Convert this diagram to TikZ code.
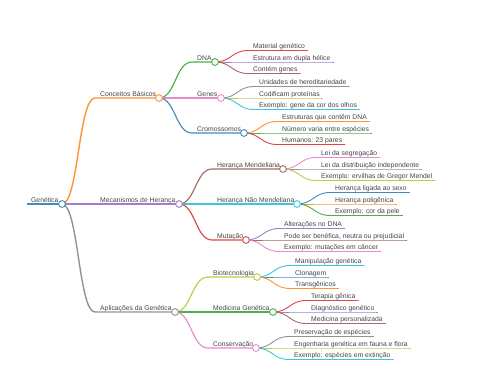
\documentclass[tikz,border=0pt]{standalone}
\usepackage{fontspec}
\setmainfont{Liberation Sans}
\definecolor{cA0}{HTML}{1F77B4}
\definecolor{cB0}{HTML}{FF7F0E}
\definecolor{cC0}{HTML}{2CA02C}
\definecolor{cD0}{HTML}{D62728}
\definecolor{cE0}{HTML}{9467BD}
\definecolor{cF0}{HTML}{8C564B}
\definecolor{cG0}{HTML}{E377C2}
\definecolor{cH0}{HTML}{7F7F7F}
\definecolor{cI0}{HTML}{BCBD22}
\definecolor{cJ0}{HTML}{17BECF}
\colorlet{cA}{cA0!85!white}
\colorlet{cB}{cB0!85!white}
\colorlet{cC}{cC0!85!white}
\colorlet{cD}{cD0!85!white}
\colorlet{cE}{cE0!85!white}
\colorlet{cF}{cF0!85!white}
\colorlet{cG}{cG0!85!white}
\colorlet{cH}{cH0!85!white}
\colorlet{cI}{cI0!85!white}
\colorlet{cJ}{cJ0!85!white}
\definecolor{txtgray}{HTML}{444444}
\tikzset{
  txt/.style={font=\fontsize{6.8}{8}\selectfont, text=txtgray, inner sep=0pt, anchor=base west},
  dot/.style={circle, draw, fill=white, minimum size=6.8pt, inner sep=0pt, line width=0.9pt}
}
% branch node: name parent color width xs y xe text
\newcommand\mmB[8]{%
  \coordinate (#1-s) at (#5,#6);
  \coordinate (#1) at (#7,#6);
  \node[txt] (#1-t) at (#5+5,#6-2) {#8};
  \draw[#3,line width=#4] (#2) .. controls +(16.5,0) and +(-16.5,0) .. (#1-s) -- (#1);
}
% leaf node: name parent color xs y text
\newcommand\mmL[6]{%
  \coordinate (#1-s) at (#4,#5);
  \node[txt] (#1-t) at (#4+5,#5-2) {#6};
  \draw[#3,line width=0.9pt] (#2) .. controls +(16.5,0) and +(-16.5,0) .. (#1-s) -- (#1-s -| #1-t.east) -- ++(3,0);
}
\newcommand\mmC[2]{\node[dot,draw=#2] (#1-c) at (#1) {};}
\begin{document}
\begin{tikzpicture}[x=1pt,y=-1pt]
\useasboundingbox (0,0) rectangle (480,384);
% root
\coordinate (root-s) at (27,204);
\coordinate (root) at (62,204);
\node[txt] (root-t) at (31,202) {Genética};
\draw[cA,line width=1.8pt] (root-s) -- (root);
% level 1
\mmB{conc}{root}{cB}{1.4pt}{95}{98}{159}{Conceitos Básicos}
\mmB{mec}{root}{cE}{1.4pt}{95}{204}{179}{Mecanismos de Herança}
\mmB{apl}{root}{cH}{1.4pt}{95}{312}{175}{Aplicações da Genética}
% level 2
\mmB{dna}{conc}{cC}{1.15pt}{192}{62}{215}{DNA}
\mmB{genes}{conc}{cG}{1.15pt}{192}{98}{221}{Genes}
\mmB{crom}{conc}{cA}{1.15pt}{192}{133}{244}{Cromossomos}
\mmB{mend}{mec}{cF}{1.15pt}{212}{169}{283}{Herança Mendeliana}
\mmB{nmend}{mec}{cJ}{1.15pt}{212}{204}{297}{Herança Não Mendeliana}
\mmB{mut}{mec}{cD}{1.15pt}{212}{240}{246}{Mutação}
\mmB{bio}{apl}{cI}{1.15pt}{208}{277}{257}{Biotecnologia}
\mmB{med}{apl}{cC}{1.15pt}{208}{312}{273}{Medicina Genética}
\mmB{cons}{apl}{cG}{1.15pt}{208}{348}{256}{Conservação}
% level 3
\mmL{l1}{dna}{cD}{248}{50.5}{Material genético}
\mmL{l2}{dna}{cE}{248}{62}{Estrutura em dupla hélice}
\mmL{l3}{dna}{cF}{248}{73.5}{Contém genes}
\mmL{l4}{genes}{cH}{254}{86.5}{Unidades de hereditariedade}
\mmL{l5}{genes}{cI}{254}{98}{Codificam proteínas}
\mmL{l6}{genes}{cJ}{254}{109.5}{Exemplo: gene da cor dos olhos}
\mmL{l7}{crom}{cB}{277}{121.5}{Estruturas que contêm DNA}
\mmL{l8}{crom}{cC}{277}{133}{Número varia entre espécies}
\mmL{l9}{crom}{cD}{277}{144.5}{Humanos: 23 pares}
\mmL{l10}{mend}{cG}{316}{157.5}{Lei da segregação}
\mmL{l11}{mend}{cH}{316}{169}{Lei da distribuição independente}
\mmL{l12}{mend}{cI}{316}{180.5}{Exemplo: ervilhas de Gregor Mendel}
\mmL{l13}{nmend}{cA}{330}{192.5}{Herança ligada ao sexo}
\mmL{l14}{nmend}{cB}{330}{204}{Herança poligênica}
\mmL{l15}{nmend}{cC}{330}{215.5}{Exemplo: cor da pele}
\mmL{l16}{mut}{cE}{279}{228.5}{Alterações no DNA}
\mmL{l17}{mut}{cF}{279}{240}{Pode ser benéfica, neutra ou prejudicial}
\mmL{l18}{mut}{cG}{279}{251.5}{Exemplo: mutações em câncer}
\mmL{l19}{bio}{cJ}{290}{265.5}{Manipulação genética}
\mmL{l20}{bio}{cA}{290}{277}{Clonagem}
\mmL{l21}{bio}{cB}{290}{288.5}{Transgênicos}
\mmL{l22}{med}{cD}{306}{300.5}{Terapia gênica}
\mmL{l23}{med}{cE}{306}{312}{Diagnóstico genético}
\mmL{l24}{med}{cF}{306}{323.5}{Medicina personalizada}
\mmL{l25}{cons}{cH}{289}{336.5}{Preservação de espécies}
\mmL{l26}{cons}{cI}{289}{348}{Engenharia genética em fauna e flora}
\mmL{l27}{cons}{cJ}{289}{359.5}{Exemplo: espécies em extinção}
% circles
\mmC{root}{cA}
\mmC{conc}{cB}
\mmC{mec}{cE}
\mmC{apl}{cH}
\mmC{dna}{cC}
\mmC{genes}{cG}
\mmC{crom}{cA}
\mmC{mend}{cF}
\mmC{nmend}{cJ}
\mmC{mut}{cD}
\mmC{bio}{cI}
\mmC{med}{cC}
\mmC{cons}{cG}
\end{tikzpicture}
\end{document}
